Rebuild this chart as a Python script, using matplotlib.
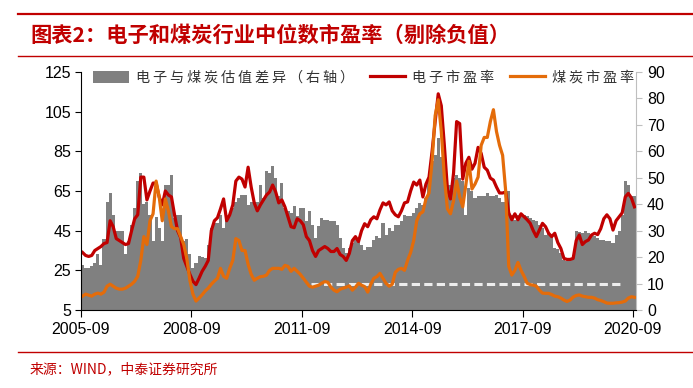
import matplotlib
matplotlib.use("Agg")
import matplotlib.pyplot as plt
from matplotlib.patches import Patch
from matplotlib.lines import Line2D
import pandas as pd

# ── data (monthly, 2005-09 .. 2020-09) ───────────────────────────────────────
months = pd.date_range("2005-09-01", "2020-09-01", freq="MS")

# 电子市盈率 (left axis)
elec_pe = [34, 32.5, 32, 32.5, 35, 36, 37, 38.5, 39, 50,
           47, 41, 40, 39, 38, 38.5, 45, 51, 53, 72,
           72, 60.5, 65, 69, 69, 62, 58, 65, 63, 62,
           53, 45, 41.5, 31, 27, 23, 19.5, 17.8, 21, 24.5,
           27, 30, 45, 50, 51.5, 56, 61, 50, 53, 58,
           70, 72, 71, 67, 77, 67, 59, 55, 58, 60.5,
           63, 64.5, 68, 64.5, 59, 60.5, 57, 52, 47, 46.5,
           51, 50, 48, 42, 40, 35, 32, 35, 36, 37,
           36, 34.5, 34.5, 36, 33, 32, 30, 33.5, 40, 42,
           39.5, 45, 48.5, 47, 50.5, 52, 51, 55.5, 59, 58,
           59.5, 55, 53, 52, 55, 59, 59.5, 65, 69.5, 68,
           70.5, 62, 68.5, 72, 85, 100, 114, 108, 88, 66,
           61, 74, 100, 99, 71, 79, 82, 76, 79, 87,
           84, 77, 75.5, 71.5, 70.5, 67, 64, 64, 64.5, 54,
           50.5, 53.5, 50.5, 53.5, 52, 50.5, 48.7, 45, 42, 45.3,
           48.7, 47, 43.7, 42, 43.7, 39, 36, 31, 30.5, 30.5,
           31, 40, 42.8, 38, 39.5, 40.3, 42.8, 43.7, 43, 46,
           51, 53, 51, 45.3, 50, 52, 54, 62, 63.8, 61.5,
           57]

# 煤炭市盈率 (left axis)
coal_pe = [12, 13, 12.5, 12, 13, 13.5, 13, 14, 17, 18,
           17, 16, 15.5, 15.5, 16, 17, 18, 19.5, 22, 30,
           42, 38, 50, 53.5, 70, 62, 50, 61, 55, 47,
           46, 46, 42, 38, 31, 20, 13, 9.5, 11, 12.7,
           14.6, 16, 18, 19.6, 21, 26, 22, 21, 26, 30,
           41, 40, 35, 35, 28, 23, 20, 21, 21.8, 22,
           22.6, 25, 26, 26, 26, 25.5, 27.5, 27, 24.5, 26,
           24.5, 23, 21, 19, 17, 16.5, 17, 17.5, 18.5, 19.3,
           19, 16.5, 15, 14.2, 15.5, 16, 16.5, 17.2, 15, 16.5,
           18.5, 17.5, 16.8, 14, 18, 21, 21.8, 23.5, 21, 18.4,
           17, 18, 24, 25.5, 26, 25, 30, 34, 40, 50,
           53.5, 54.5, 61, 64, 80, 103, 111, 95, 72, 56,
           53.5, 60, 70, 62, 57, 68, 80, 66, 68.5, 72,
           88, 92, 92, 100, 106, 95, 88, 83, 65, 27,
           22.6, 25, 29, 25, 22, 18.5, 17.8, 17.5, 17, 15,
           13.5, 13.4, 13.4, 12.8, 12, 11.7, 11, 10, 9.3, 10,
           11.5, 12.3, 12.6, 12, 11.7, 11.4, 11.4, 11, 10.2, 9.8,
           9.2, 8.5, 8.4, 8.4, 8.6, 8.7, 9, 9.5, 11, 11.7,
           11.4]

# 电子与煤炭估值差异 (right axis)
pe_gap = [17, 16, 16, 16.5, 17.8, 21, 17.2, 27, 41, 44.3,
          36, 30, 30, 30, 21, 26, 32, 38.6, 48.7, 51.8,
          40, 41, 36, 26, 35, 31, 26, 47.4, 47.4, 51.2,
          34.8, 36, 36, 26, 27, 21, 16, 17.8, 20.3, 20,
          19.7, 24.7, 31, 33, 33, 36, 31, 34.2, 36, 38.6,
          41, 42.4, 43.6, 43.6, 39.8, 41, 41, 41, 47.4, 42.4,
          52.5, 51.8, 54.3, 50, 43, 48, 38.6, 37.3, 36.7, 39.2,
          35.4, 38.6, 38.6, 33.5, 37.3, 32.3, 27.2, 31.7, 34.8, 34.2,
          34.2, 33.5, 33.5, 32.3, 27.2, 23.5, 21.6, 23.5, 25.3, 27.2,
          26, 24.7, 22.8, 24, 24, 26.6, 27.9, 27.2, 32.9, 28.5,
          31, 29.8, 32.3, 32.3, 33.5, 36, 35.4, 35.4, 36.7, 38.6,
          40.5, 39.8, 42.4, 48.7, 56.2, 58.8, 65, 58, 51.2, 47.4,
          47.4, 50, 51.2, 50, 48.7, 36, 46.2, 44.9, 42.4, 43,
          43, 43, 44.3, 43, 43, 43.6, 42.4, 41, 41, 44.9,
          36, 34.2, 36, 35.4, 36, 35.4, 34.8, 34.2, 33.5, 32.3,
          31, 28.5, 29.1, 27.9, 23.5, 23, 21.6, 19, 18.4, 19,
          20.9, 29.8, 29.5, 29.1, 29.8, 29, 28.5, 27.9, 27.2, 26.6,
          26.6, 26, 26, 25.3, 28.5, 29.8, 36, 48.7, 47.4, 43,
          43]

# 10x reference line on the right axis
ref_level = 10
ref_start, ref_end = "2011-12-01", "2020-06-01"

tick_months = ["2005-09", "2008-09", "2011-09", "2014-09", "2017-09", "2020-09"]

# ── styling ─────────────────────────────────────────────────────────────────
RED = "#C00000"
ORANGE = "#E46C0A"
GRAY = "#808080"
CJK = ["Noto Sans CJK SC", "DejaVu Sans"]
NUM = "Liberation Sans"


def spaced(s):
    return "\u2009".join(s)


fig = plt.figure(figsize=(6.93, 3.88), dpi=100)
ax = fig.add_axes([81 / 693, 1 - 310 / 388, 555 / 693, 238 / 388])
ax2 = ax.twinx()
ax.set_zorder(ax2.get_zorder() + 1)
ax.patch.set_visible(False)

x = list(range(len(months)))
xc = [i + 0.5 for i in x]

ax2.bar(x, pe_gap, width=1.0, align="edge", color=GRAY, linewidth=0)
i0 = months.get_loc(pd.Timestamp(ref_start))
i1 = months.get_loc(pd.Timestamp(ref_end))
ax2.plot([i0, i1], [ref_level, ref_level], color="#EDEDED", lw=2.2,
         dashes=(2.7, 1.4))

ax.plot(xc, elec_pe, color=RED, lw=2.3, solid_joinstyle="round")
ax.plot(xc, coal_pe, color=ORANGE, lw=2.3, solid_joinstyle="round")

ax.set_xlim(0, len(months))
ax.set_ylim(5, 125)
ax.set_yticks(range(5, 126, 20))
ax2.set_ylim(0, 90)
ax2.set_yticks(range(0, 91, 10))

tick_pos = [months.get_loc(pd.Timestamp(t + "-01")) for t in tick_months]
ax.set_xticks(tick_pos)
ax.set_xticklabels(tick_months)

for a in (ax, ax2):
    a.spines["top"].set_visible(False)
ax.spines["right"].set_visible(False)
ax2.spines["left"].set_visible(False)
ax2.spines["bottom"].set_visible(False)
ax2.spines["right"].set_color("#BFBFBF")
ax.spines["left"].set_color("black")
ax.spines["bottom"].set_color("black")

ax.tick_params(axis="y", direction="out", length=4, width=0.8, pad=3)
ax.tick_params(axis="x", direction="out", length=5, width=0.8, pad=4)
ax2.tick_params(axis="y", direction="out", length=4, width=0.8,
                color="#BFBFBF", pad=4)
for lbl in ax.get_xticklabels() + ax.get_yticklabels() + ax2.get_yticklabels():
    lbl.set_fontfamily(NUM)
    lbl.set_fontsize(11.5)

handles = [Patch(facecolor=GRAY, edgecolor="none"),
           Line2D([], [], color=RED, lw=2.3),
           Line2D([], [], color=ORANGE, lw=2.3)]
labels = [spaced("电子与煤炭估值差异（右轴）"), spaced("电子市盈率"), spaced("煤炭市盈率")]
leg = ax.legend(handles, labels, ncol=3, loc="upper left",
                bbox_to_anchor=(0.012, 1.03), frameon=False,
                prop={"family": CJK, "size": 10.2},
                handlelength=2.5, handleheight=0.9, handletextpad=0.5,
                columnspacing=1.1, borderaxespad=0)
for t in leg.get_texts():
    t.set_color("#333333")

# title block and source
fig.add_artist(Line2D([18 / 693, 1], [1 - 14 / 388] * 2, color=RED, lw=1.6))
fig.add_artist(Line2D([18 / 693, 1], [1 - 56 / 388] * 2, color=RED, lw=1.0))
fig.text(30 / 693, 1 - 35 / 388, "图表2：电子和煤炭行业中位数市盈率（剔除负值）",
         family=CJK, fontsize=15.3, fontweight="bold", style="italic",
         color=RED, va="center", ha="left")
fig.add_artist(Line2D([18 / 693, 1], [1 - 352 / 388] * 2, color=RED, lw=1.0))
fig.text(30 / 693, 1 - 369 / 388, "来源：WIND，中泰证券研究所",
         family=CJK, fontsize=10, color=RED, va="center", ha="left")

fig.savefig("out.png", dpi=100)
